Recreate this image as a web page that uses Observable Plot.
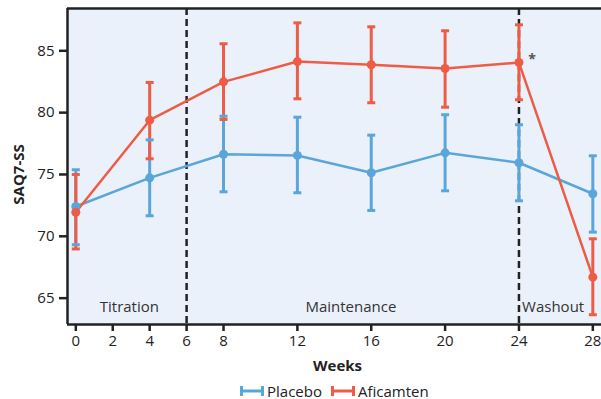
<!DOCTYPE html>
<html>
<head>
<meta charset="utf-8">
<script src="https://cdn.jsdelivr.net/npm/d3@7"></script>
<script src="https://cdn.jsdelivr.net/npm/@observablehq/plot@0.6"></script>
<style>
  html, body { margin: 0; padding: 0; background: #fff; }
  body { width: 601px; height: 399px; overflow: hidden; font-family: "Open Sans", sans-serif; color: #222; }
  #legend { display: flex; justify-content: flex-start; align-items: center; height: 19px; font-size: 15px; padding-left: 240px; margin-top: 1px; }
  #legend .item { display: flex; align-items: center; margin-right: 9px; }
  #legend svg { margin-right: 3px; }
</style>
</head>
<body>
<div id="chart"></div>
<div id="legend"></div>
<script>
const weeks = [0, 4, 8, 12, 16, 20, 24, 28];
const placeboMean = [72.41, 74.73, 76.64, 76.54, 75.14, 76.75, 75.95, 73.44];
const placeboLow  = [69.32, 71.66, 73.60, 73.52, 72.09, 73.68, 72.87, 70.34];
const placeboHigh = [75.38, 77.80, 79.71, 79.63, 78.18, 79.83, 79.02, 76.51];
const aficMean = [71.95, 79.39, 82.49, 84.13, 83.87, 83.57, 84.05, 66.70];
const aficLow  = [68.98, 76.27, 79.45, 81.12, 80.80, 80.44, 81.04, 63.66];
const aficHigh = [75.00, 82.44, 85.57, 87.26, 86.94, 86.62, 87.10, 69.80];
const seriesNames = ["Placebo", "Aficamten"];
const seriesColors = ["#5aa6db", "#ef5c45"];
const xTicks = [0, 2, 4, 6, 8, 12, 16, 20, 24, 28];
const yTicks = [65, 70, 75, 80, 85];
const phaseBoundaries = [6, 24];
const phaseLabels = ["Titration", "Maintenance", "Washout"];
const phaseCenters = [2.9, 14.9, 25.85];
const xDomain = [-0.45, 28.47];
const yDomain = [62.87, 88.42];
const significantWeek = [24];

const rows = [];
weeks.forEach((w, i) => {
  rows.push({series: seriesNames[0], week: w, mean: placeboMean[i], low: placeboLow[i], high: placeboHigh[i]});
});
weeks.forEach((w, i) => {
  rows.push({series: seriesNames[1], week: w, mean: aficMean[i], low: aficLow[i], high: aficHigh[i]});
});
const phases = phaseLabels.map((t, i) => ({label: t, x: phaseCenters[i]}));
const stars = significantWeek.map(w => ({week: w, mean: aficMean[weeks.indexOf(w)]}));

// horizontal cap symbol for error bars
const capSymbol = {
  draw(context, size) {
    const w = Math.sqrt(size / Math.PI);
    context.moveTo(-w, 0);
    context.lineTo(w, 0);
  }
};

const ink = "#222";
const chart = Plot.plot({
  width: 601,
  height: 380,
  marginTop: 8,
  marginBottom: 56,
  marginLeft: 67,
  marginRight: 0,
  style: {fontFamily: "'Open Sans', sans-serif", fontSize: "15px", color: ink, background: "#fff", overflow: "visible"},
  x: {domain: xDomain},
  y: {domain: yDomain},
  color: {domain: seriesNames, range: seriesColors},
  marks: [
    Plot.frame({fill: "#eaf1fa", stroke: null}),
    Plot.axisY({ticks: yTicks, tickSize: 8, tickPadding: 5, strokeWidth: 2.5, stroke: ink, fontSize: 15, label: null}),
    Plot.axisX({ticks: xTicks, tickSize: 7, tickPadding: 4, strokeWidth: 2.5, stroke: ink, fontSize: 15, label: null}),
    Plot.ruleX(phaseBoundaries, {stroke: ink, strokeWidth: 2.5, strokeDasharray: "7,4"}),
    Plot.ruleY([yDomain[0]], {stroke: ink, strokeWidth: 2.5}),
    Plot.ruleY([yDomain[1]], {stroke: ink, strokeWidth: 2.5}),
    Plot.ruleX([xDomain[0]], {stroke: ink, strokeWidth: 2.5}),
    Plot.text(phases, {x: "x", frameAnchor: "bottom", dy: -17, text: "label", fill: "#333", fontSize: 15, textAnchor: "middle", lineAnchor: "middle"}),
    Plot.ruleX(rows, {x: "week", y1: "low", y2: "high", stroke: "series", strokeWidth: 3}),
    Plot.dot(rows, {x: "week", y: "low", stroke: "series", strokeWidth: 3, symbol: capSymbol, r: 4}),
    Plot.dot(rows, {x: "week", y: "high", stroke: "series", strokeWidth: 3, symbol: capSymbol, r: 4}),
    Plot.line(rows, {x: "week", y: "mean", z: "series", stroke: "series", strokeWidth: 2.5}),
    Plot.dot(rows, {x: "week", y: "mean", fill: "series", r: 4.5}),
    Plot.text(stars, {x: "week", y: "mean", text: () => "*", dx: 13, dy: -3, fill: "#555", fontSize: 14, fontWeight: "bold"}),
    Plot.text(["SAQ7-SS"], {frameAnchor: "left", textAnchor: "middle", lineAnchor: "middle", dx: -48, dy: 8, rotate: -90, fontWeight: "bold", fontSize: 15, fill: ink}),
    Plot.text(["Weeks"], {frameAnchor: "bottom", dx: 3, dy: 46, fontWeight: "bold", fontSize: 15, fill: ink})
  ]
});
document.getElementById("chart").appendChild(chart);

const legend = document.getElementById("legend");
seriesNames.forEach((name, i) => {
  const item = document.createElement("div");
  item.className = "item";
  item.innerHTML = `<svg width="24" height="14"><path d="M1.5,2V12M1.5,7H22.5M22.5,2V12" stroke="${seriesColors[i]}" stroke-width="3" fill="none"/></svg><span>${name}</span>`;
  legend.appendChild(item);
});
</script>
</body>
</html>
